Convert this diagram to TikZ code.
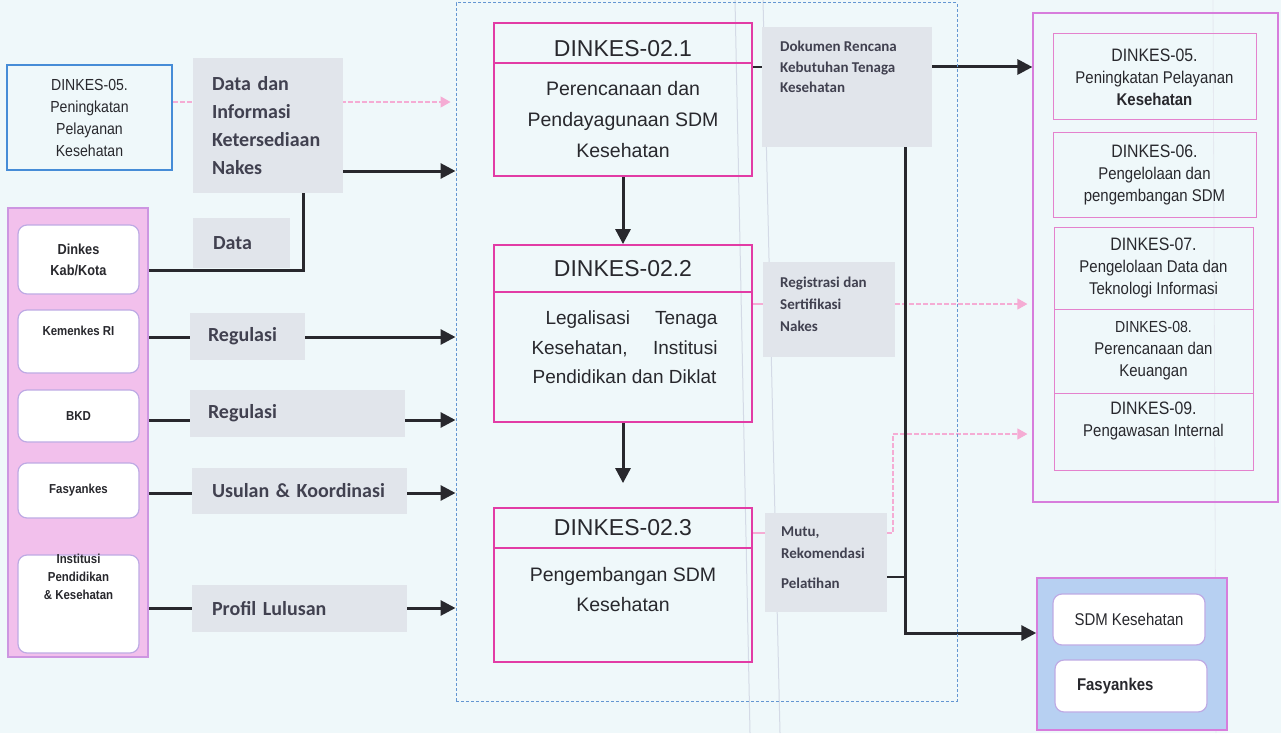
\documentclass[tikz,border=0pt]{standalone}
\usepackage{fontspec}
\setmainfont{Liberation Sans}
\newfontfamily\nrw[FakeStretch=0.88]{Liberation Sans}
\newfontfamily\lblfont{Carlito}
\usetikzlibrary{arrows.meta}
\newcommand{\fsz}[2]{\fontsize{#1pt}{#2pt}\selectfont}

\definecolor{bgc}{RGB}{239,248,250}
\definecolor{lblgray}{RGB}{225,229,235}
\definecolor{mag}{RGB}{226,60,165}
\definecolor{pinkfill}{RGB}{242,192,236}
\definecolor{pinkedge}{RGB}{205,150,225}
\definecolor{lav}{RGB}{190,170,228}
\definecolor{dashblue}{RGB}{100,150,210}
\definecolor{boxblue}{RGB}{70,140,215}
\definecolor{rcedge}{RGB}{215,125,220}
\definecolor{inedge}{RGB}{228,130,205}
\definecolor{botfill}{RGB}{183,208,242}
\definecolor{arrpink}{RGB}{245,172,212}
\definecolor{ink}{RGB}{40,40,45}
\definecolor{lblink}{RGB}{65,65,80}
\definecolor{guide}{RGB}{212,218,230}

\pgfdeclarelayer{back}
\pgfdeclarelayer{wires}
\pgfsetlayers{back,wires,main}

\begin{document}
\begin{tikzpicture}[x=1pt,y=-1pt,
  lbl/.style={fill=lblgray, inner sep=0pt, font=\lblfont\bfseries\fsz{20}{28}, text=lblink, align=left},
  slbl/.style={fill=lblgray, inner sep=0pt},
  sltxt/.style={font=\lblfont\bfseries\fsz{15}{22}, text=lblink, align=left, inner sep=0pt, anchor=north west},
  wbox/.style={fill=white, draw=lav, line width=1.2pt, rounded corners=9pt, minimum width=121pt, inner sep=0pt,
               font=\nrw\bfseries\fsz{13}{18}, text=ink, align=center},
  wtxt/.style={font=\nrw\bfseries\fsz{13}{18}, text=ink, align=center, inner sep=0pt},
  ttl/.style={draw=mag, line width=1.8pt, minimum width=258pt, inner sep=0pt, font=\fsz{23}{27}, text=ink},
  bdy/.style={draw=mag, line width=1.8pt, minimum width=258pt, inner sep=0pt, font=\fsz{19.5}{31}, text=ink, align=center},
  btxt/.style={font=\fsz{19.5}{30}, text=ink, align=center, inner sep=0pt},
  rin/.style={draw=inedge, line width=1pt, inner sep=0pt, align=center, font=\nrw\fsz{17}{22}, text=ink},
  rtxt/.style={font=\nrw\fsz{17}{22}, text=ink, align=center, inner sep=0pt},
  ln/.style={draw=ink, line width=3pt},
  blk/.style={ln, -{Triangle[length=15pt,width=15pt]}},
  pkl/.style={draw=arrpink, line width=1.3pt},
  pk/.style={draw=arrpink, line width=1.3pt, dash pattern=on 5pt off 2pt,
             -{Triangle[length=10pt,width=11pt]}, shorten >=5pt},
]
\useasboundingbox (0,0) rectangle (1281,733);
\begin{pgfonlayer}{back}
  \fill[bgc] (0,0) rectangle (1281,733);
  \draw[guide, line width=1pt] (735,0) -- (750,733);
  \draw[guide, line width=1pt] (763,0) -- (780,733);
  \draw[guide!60, line width=0.8pt] (1213,0) -- (1216,733);
\end{pgfonlayer}

% ---- left side: sources
\node[draw=boxblue, line width=1.8pt, minimum width=165pt, minimum height=105pt, inner sep=0pt,
      align=center, font=\nrw\fsz{16}{22}, text=ink] (srcA) at (89.5,117.5)
      {DINKES-05.\\Peningkatan\\Pelayanan\\Kesehatan};

\node[lbl, minimum width=150pt, minimum height=135pt, text width=112pt] (info) at (268,125.5)
      {Data dan\\Informasi\\Ketersediaan\\Nakes};
\node[lbl, minimum width=97pt, minimum height=50pt, text width=57pt] (dataL) at (241.5,243) {Data};

\node[fill=pinkfill, draw=pinkedge, line width=1.2pt, minimum width=140pt, minimum height=449pt] (grp) at (78,432.5) {};
\node[wbox, minimum height=69pt, font=\nrw\bfseries\fsz{14.5}{21}] (kab) at (78.5,259.5) {Dinkes\\Kab/Kota};
\node[wbox, minimum height=63pt] (kem) at (78.5,341.5) {};
\node[wtxt] (kemT) at (78.5,331) {Kemenkes RI};
\node[wbox, minimum height=52pt] (bkd) at (78.5,416) {BKD};
\node[wbox, minimum height=55pt] (fas) at (78.5,490.5) {Fasyankes};
\node[wbox, minimum height=98pt] (ins) at (78.5,604) {};
\node[wtxt] (insT) at (78.5,577) {Institusi\\Pendidikan\\\& Kesehatan};

\node[lbl, minimum width=115pt, minimum height=47pt, text width=79pt] (reg1) at (247.5,336) {Regulasi};
\node[lbl, minimum width=215pt, minimum height=47pt, text width=179pt] (reg2) at (297.5,413.5) {Regulasi};
\node[lbl, minimum width=215pt, minimum height=46pt, text width=175pt] (usul) at (299.5,491) {Usulan \& Koordinasi};
\node[lbl, minimum width=215pt, minimum height=47pt, text width=175pt] (prof) at (299.5,608.5) {Profil Lulusan};

% ---- centre: process group
\node[draw=dashblue, line width=1pt, dash pattern=on 3pt off 2pt, minimum width=501pt, minimum height=698pt] (cont) at (706.5,352) {};

\node[ttl, minimum height=40pt] (t1) at (623,43) {\raisebox{-6pt}[\height][\depth]{DINKES-02.1}};
\node[bdy, minimum height=113pt] (b1) at (623,119.5) {Perencanaan dan\\Pendayagunaan SDM\\Kesehatan};

\node[ttl, minimum height=47pt] (t2) at (623,268.5) {DINKES-02.2};
\node[bdy, minimum height=130pt] (b2) at (623,357) {};
\node[btxt, font=\fsz{19}{29.5}] (b2T) at (624.5,347.5)
      {\makebox[186pt][l]{\hspace*{14pt}Legalisasi\hfill Tenaga}\\
       \makebox[186pt][l]{Kesehatan,\hfill Institusi}\\
       \makebox[186pt]{Pendidikan dan Diklat}};

\node[ttl, minimum height=40pt] (t3) at (623,528) {DINKES-02.3};
\node[bdy, minimum height=114pt] (b3) at (623,605) {};
\node[btxt] (b3T) at (623,590) {Pengembangan SDM\\Kesehatan};

% ---- outputs of the process group
\node[slbl, minimum width=170pt, minimum height=120pt] (doc) at (847,87) {};
\node[sltxt, font=\lblfont\bfseries\fsz{15}{20.5}] (docT) at (780,41) {Dokumen Rencana\\Kebutuhan Tenaga\\Kesehatan};
\node[slbl, minimum width=132pt, minimum height=95pt] (regL) at (829,309.5) {};
\node[sltxt] (regT) at (780,277) {Registrasi dan\\Sertifikasi\\Nakes};
\node[slbl, minimum width=122pt, minimum height=99pt] (mutu) at (826,562.5) {};
\node[sltxt] (mutuT) at (781,527) {Mutu,\\Rekomendasi\\[8pt]Pelatihan};

% ---- right side: receiving units
\node[draw=rcedge, line width=1.2pt, minimum width=245pt, minimum height=489pt] (rc) at (1155.5,257.5) {};
\node[rin, minimum width=203pt, minimum height=86pt] (r05) at (1154.5,77)
      {{\fsz{18}{22}DINKES-05.}\\Peningkatan Pelayanan\\\textbf{Kesehatan}};
\node[rin, minimum width=203pt, minimum height=85pt] (r06) at (1154.5,174.5)
      {{\fsz{18}{22}DINKES-06.}\\Pengelolaan dan\\pengembangan SDM};
\node[rin, minimum width=199pt, minimum height=82pt] (r07) at (1153.5,268)
      {{\fsz{18}{22}DINKES-07.}\\Pengelolaan Data dan\\Teknologi Informasi};
\node[rin, minimum width=199pt, minimum height=84pt] (r08) at (1153.5,351)
      {{\fsz{16}{22}DINKES-08.}\\Perencanaan dan\\Keuangan};
\node[rin, minimum width=199pt, minimum height=77pt] (r09) at (1153.5,431.5) {};
\node[rtxt] (r09T) at (1153.5,421) {{\fsz{18}{22}DINKES-09.}\\Pengawasan Internal};

\node[fill=botfill, draw=rcedge, line width=1.5pt, minimum width=190pt, minimum height=152pt] (bot) at (1132,654) {};
\node[wbox, draw=lav, minimum width=152pt, minimum height=51pt, font=\nrw\fsz{17}{22}] (sdm) at (1129,619.5) {SDM Kesehatan};
\node[wbox, draw=lav, minimum width=152pt, minimum height=52pt, text width=108pt, align=left,
      font=\nrw\bfseries\fsz{17}{22}] (fas2) at (1131,686) {Fasyankes};

% ---- row levels and bends
\coordinate (yA) at (0,102);
\coordinate (yB) at (0,171);
\coordinate (yKab) at (0,270);
\coordinate (yR1) at (0,337);
\coordinate (yR2) at (0,420);
\coordinate (yUs) at (0,493);
\coordinate (yPr) at (0,608);
\coordinate (yDoc) at (0,67);
\coordinate (yReg) at (0,304);
\coordinate (yMP) at (0,533);
\coordinate (yUp) at (0,434);
\coordinate (yMB) at (0,577);
\coordinate (yBot) at (0,633);
\coordinate (dj) at (303,0);
\coordinate (riser) at (893,0);
\coordinate (spine) at (905,0);

\begin{pgfonlayer}{wires}
  % light (pink) flows
  \draw[pk] (srcA.east |- yA) -- (cont.west |- yA);
  \draw[pkl] (b2.east |- yReg) -- (regL.west |- yReg);
  \draw[pk] (regL.east |- yReg) -- (rc.west |- yReg);
  \draw[pkl] (t3.east |- yMP) -- (mutu.west |- yMP);
  \draw[pk] (mutu.east |- yMP) -| (riser |- yUp) -- (rc.west |- yUp);
  % main (black) flows
  \draw[blk] (info.east |- yB) -- (cont.west |- yB);
  \draw[ln] (grp.east |- yKab) -| (dj |- info.south);
  \draw[ln] (grp.east |- yR1) -- (reg1.west |- yR1);
  \draw[blk] (reg1.east |- yR1) -- (cont.west |- yR1);
  \draw[ln] (grp.east |- yR2) -- (reg2.west |- yR2);
  \draw[blk] (reg2.east |- yR2) -- (cont.west |- yR2);
  \draw[ln] (grp.east |- yUs) -- (usul.west |- yUs);
  \draw[blk] (usul.east |- yUs) -- (cont.west |- yUs);
  \draw[ln] (grp.east |- yPr) -- (prof.west |- yPr);
  \draw[blk] (prof.east |- yPr) -- (cont.west |- yPr);
  \draw[blk] (b1.south) -- (t2.north);
  \draw[blk] (b2.south) -- ([yshift=24pt]t3.north);
  \draw[ln, line width=2.5pt] (b1.east |- yDoc) -- (doc.west |- yDoc);
  \draw[blk] (doc.east |- yDoc) -- (rc.west |- yDoc);
  \draw[ln, line width=2.5pt] (mutu.east |- yMB) -- (spine |- yMB);
  \draw[blk] (spine |- doc.south) -- (spine |- yBot) -- (bot.west |- yBot);
\end{pgfonlayer}
\end{tikzpicture}
\end{document}
